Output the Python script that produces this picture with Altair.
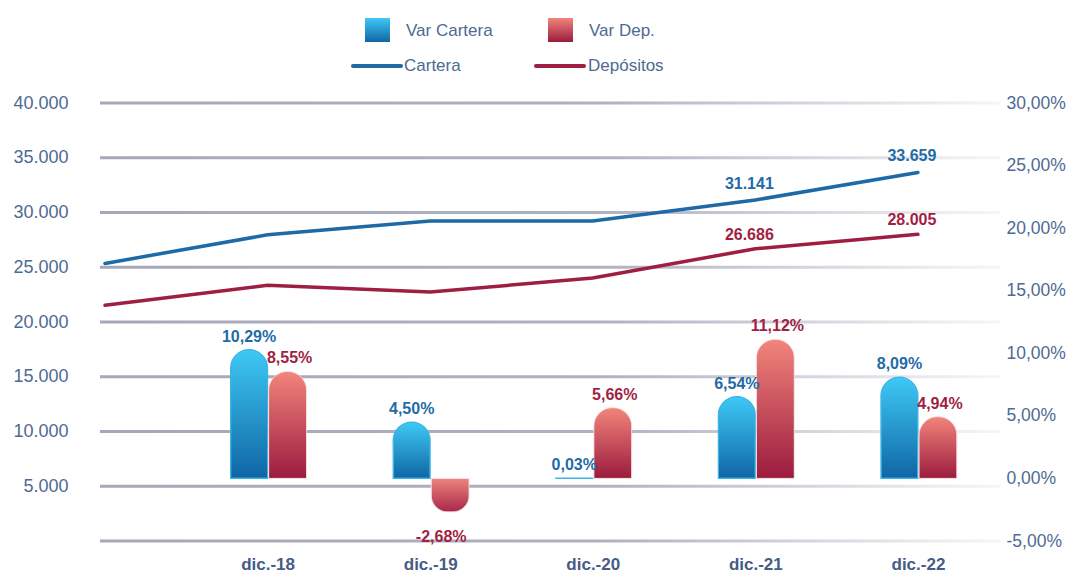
import json
import altair as alt
import pandas as pd

# ---------------- data ----------------
categories = ["dic.-17", "dic.-18", "dic.-19", "dic.-20", "dic.-21", "dic.-22"]
axis_labels = ["", "dic.-18", "dic.-19", "dic.-20", "dic.-21", "dic.-22"]
cartera = [25350, 27960, 29220, 29230, 31141, 33659]
depositos = [21520, 23350, 22730, 24020, 26686, 28005]
var_cartera = [None, 10.29, 4.50, 0.03, 6.54, 8.09]
var_dep = [None, 8.55, -2.68, 5.66, 11.12, 4.94]
labelled_points = ["dic.-21", "dic.-22"]
grid_values = [0, 5000, 10000, 15000, 20000, 25000, 30000, 35000, 40000]
pct_ticks = [-5, 0, 5, 10, 15, 20, 25, 30]
legend_labels = ["Var Cartera", "Var Dep.", "Cartera", "Depósitos"]

df = pd.DataFrame({
    "idx": list(range(len(categories))),
    "cat": categories,
    "cartera": cartera,
    "depositos": depositos,
    "var_cartera": var_cartera,
    "var_dep": var_dep,
})
df["show"] = df["cat"].isin(labelled_points)
grid_df = pd.DataFrame({"g": grid_values})

# ---------------- style ----------------
FONT = "Liberation Sans"
AXIS_COLOR = "#4E6A92"
XLAB_COLOR = "#465C84"
BLUE = "#1D6AA7"
RED = "#9E1F42"
BLUE_TXT = "#1F6BA6"
RED_TXT = "#A11F43"

blue_grad = alt.Gradient(
    gradient="linear", x1=0, x2=0, y1=0, y2=1,
    stops=[alt.GradientStop(color="#3EC9F5", offset=0),
           alt.GradientStop(color="#0F66A4", offset=1)])
red_grad = alt.Gradient(
    gradient="linear", x1=0, x2=0, y1=0, y2=1,
    stops=[alt.GradientStop(color="#F2857B", offset=0),
           alt.GradientStop(color="#9B1B3E", offset=1)])
red_grad_neg = alt.Gradient(
    gradient="linear", x1=0, x2=0, y1=0, y2=1,
    stops=[alt.GradientStop(color="#EE837D", offset=0),
           alt.GradientStop(color="#A6284A", offset=1)])
grid_grad = alt.Gradient(
    gradient="linear", x1=0, x2=1, y1=0, y2=0,
    stops=[alt.GradientStop(color="#A6A7B8", offset=0),
           alt.GradientStop(color="#AFB0C0", offset=0.55),
           alt.GradientStop(color="#F6F6F9", offset=1)])

xlabel_expr = f"{json.dumps(axis_labels)}[round(datum.value)]"
x_axis = alt.Axis(values=[1, 2, 3, 4, 5], labelExpr=xlabel_expr, title=None,
                  domain=False, ticks=False, grid=False, labelFont=FONT,
                  labelFontSize=17, labelFontWeight="bold", labelColor=XLAB_COLOR,
                  labelPadding=15)
x_scale = alt.Scale(domain=[0, 5.474], nice=False, zero=False)
X = alt.X("idx:Q", scale=x_scale, axis=x_axis)

left_scale = alt.Scale(domain=[0, 40000], nice=False)
left_axis = alt.Axis(values=grid_values,
                     labelExpr="datum.value == 0 ? '' : replace(format(datum.value, ',.0f'), ',', '.')",
                     title=None, domain=False, ticks=False, grid=False,
                     labelFont=FONT, labelFontSize=18, labelColor=AXIS_COLOR,
                     labelPadding=32, orient="left")
right_scale = alt.Scale(domain=[-5, 30], nice=False, zero=False)
right_axis = alt.Axis(values=pct_ticks,
                      labelExpr="replace(replace(format(datum.value, '.2f'), '.', ','), '\u2212', '-') + '%'",
                      title=None, domain=False, ticks=False, grid=False,
                      labelFont=FONT, labelFontSize=17.5, labelColor=AXIS_COLOR,
                      labelPadding=6, orient="right")

# ---------------- left-scale layers ----------------
grid = alt.Chart(grid_df).mark_rect(fill=grid_grad, yOffset=-1.5, y2Offset=1.5).encode(
    x=alt.value(0), x2=alt.value(900),
    y=alt.Y("g:Q", scale=left_scale, axis=left_axis),
    y2="g:Q",
)

base = alt.Chart(df)
line_c = base.mark_line(stroke=BLUE, strokeWidth=3.5, strokeCap="round").encode(
    x=X, y=alt.Y("cartera:Q", scale=left_scale, axis=left_axis))
line_d = base.mark_line(stroke=RED, strokeWidth=3.5, strokeCap="round").encode(
    x=X, y=alt.Y("depositos:Q", scale=left_scale, axis=left_axis))

lab_c = base.transform_filter("datum.show").transform_calculate(
    t="replace(format(datum.cartera, ',.0f'), ',', '.')"
).mark_text(font=FONT, fontSize=16, fontWeight="bold", color=BLUE_TXT,
            dx=-6, dy=-11, baseline="alphabetic").encode(
    x=X, y=alt.Y("cartera:Q", scale=left_scale, axis=left_axis), text="t:N")
lab_d = base.transform_filter("datum.show").transform_calculate(
    t="replace(format(datum.depositos, ',.0f'), ',', '.')"
).mark_text(font=FONT, fontSize=16, fontWeight="bold", color=RED_TXT,
            dx=-6, dy=-9, baseline="alphabetic").encode(
    x=X, y=alt.Y("depositos:Q", scale=left_scale, axis=left_axis), text="t:N")

# legend (manual)
one = pd.DataFrame({"k": [0]})
leg_sq_b = alt.Chart(one).mark_rect(fill=blue_grad).encode(
    x=alt.value(265), x2=alt.value(290), y=alt.value(-85), y2=alt.value(-61))
leg_sq_r = alt.Chart(one).mark_rect(fill=red_grad).encode(
    x=alt.value(448), x2=alt.value(473), y=alt.value(-85), y2=alt.value(-61))
leg_ln_b = alt.Chart(one).mark_rule(stroke=BLUE, strokeWidth=4, strokeCap="round").encode(
    x=alt.value(253), x2=alt.value(301), y=alt.value(-37))
leg_ln_r = alt.Chart(one).mark_rule(stroke=RED, strokeWidth=4, strokeCap="round").encode(
    x=alt.value(436), x2=alt.value(484), y=alt.value(-37))

def leg_text(label, x, y):
    return alt.Chart(pd.DataFrame({"t": [label]})).mark_text(
        font=FONT, fontSize=17, color=AXIS_COLOR, align="left", baseline="middle"
    ).encode(text="t:N", x=alt.value(x), y=alt.value(y))

leg_texts = [
    leg_text(legend_labels[0], 306, -72),
    leg_text(legend_labels[1], 489, -72),
    leg_text(legend_labels[2], 304, -37),
    leg_text(legend_labels[3], 488, -37),
]

left_layer = alt.layer(grid, line_c, line_d, lab_c, lab_d,
                       leg_sq_b, leg_sq_r, leg_ln_b, leg_ln_r, *leg_texts)

# ---------------- right-scale layers ----------------
bars_b = base.transform_filter("isValid(datum.var_cartera)").mark_bar(
    fill=blue_grad, width=37, xOffset=-18.5, cornerRadiusTopLeft=18.5,
    cornerRadiusTopRight=18.5, stroke="#3DB4E6", strokeWidth=1.2
).encode(x=X, y=alt.Y("var_cartera:Q", scale=right_scale, axis=right_axis))
bars_r = base.transform_filter("isValid(datum.var_dep) && datum.var_dep >= 0").mark_bar(
    fill=red_grad, width=38, xOffset=20, cornerRadiusTopLeft=19,
    cornerRadiusTopRight=19, stroke="#F6DADA", strokeWidth=0.8
).encode(x=X, y=alt.Y("var_dep:Q", scale=right_scale, axis=right_axis))
bars_rn = base.transform_filter("isValid(datum.var_dep) && datum.var_dep < 0").mark_bar(
    fill=red_grad_neg, width=38, xOffset=20, cornerRadiusBottomLeft=19,
    cornerRadiusBottomRight=19, stroke="#F6DADA", strokeWidth=0.8
).encode(x=X, y=alt.Y("var_dep:Q", scale=right_scale, axis=right_axis))

pct_fmt = "replace(replace(format(datum.v, '.2f'), '.', ','), '\u2212', '-') + '%'"
blab = base.transform_filter("isValid(datum.var_cartera)").transform_calculate(
    v="datum.var_cartera").transform_calculate(t=pct_fmt).mark_text(
    font=FONT, fontSize=16, fontWeight="bold", color=BLUE_TXT,
    dx=-18.5, dy=-8, baseline="alphabetic").encode(
    x=X, y=alt.Y("var_cartera:Q", scale=right_scale, axis=right_axis), text="t:N")
rlab_pos = base.transform_filter("isValid(datum.var_dep) && datum.var_dep >= 0").transform_calculate(
    v="datum.var_dep").transform_calculate(t=pct_fmt).mark_text(
    font=FONT, fontSize=16, fontWeight="bold", color=RED_TXT,
    dx=22, dy=-8, baseline="alphabetic").encode(
    x=X, y=alt.Y("var_dep:Q", scale=right_scale, axis=right_axis), text="t:N")
rlab_neg = base.transform_filter("isValid(datum.var_dep) && datum.var_dep < 0").transform_calculate(
    v="datum.var_dep").transform_calculate(t=pct_fmt).mark_text(
    font=FONT, fontSize=16, fontWeight="bold", color=RED_TXT,
    dx=11, dy=30, baseline="alphabetic").encode(
    x=X, y=alt.Y("var_dep:Q", scale=right_scale, axis=right_axis), text="t:N")

right_layer = alt.layer(bars_b, bars_r, bars_rn, blab, rlab_pos, rlab_neg)

chart = alt.layer(left_layer, right_layer).resolve_scale(y="independent").properties(
    width=900, height=438,
    background="white",
    autosize=alt.AutoSizeParams(type="none"),
    padding={"left": 92, "top": 95, "right": 67, "bottom": 33},
).configure_view(strokeWidth=0, stroke="transparent").configure_axis(
    domain=False, ticks=False, grid=False
)

chart.save("out.html", embed_options={"renderer": "svg", "actions": False})
